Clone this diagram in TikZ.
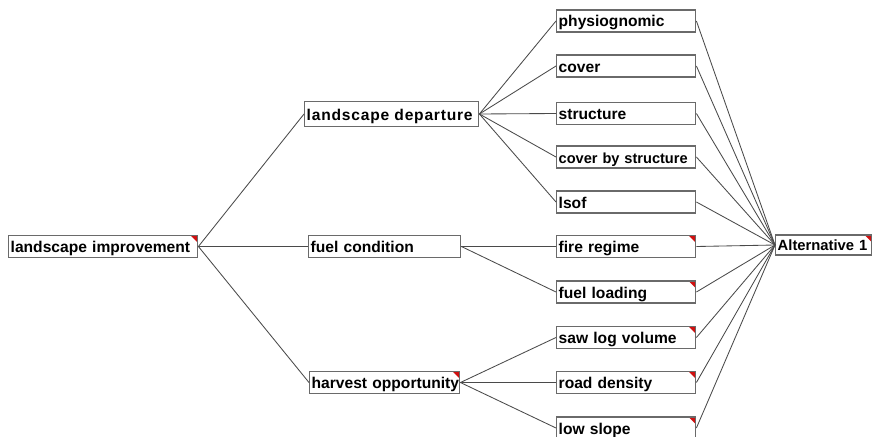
\documentclass[tikz,border=0pt]{standalone}
\usepackage{fontspec}
\setmainfont{Liberation Sans}
\definecolor{boxgray}{HTML}{6A6A6A}
\definecolor{linegray}{HTML}{4A4A4A}
\definecolor{flagred}{HTML}{D01010}
\begin{document}
\begin{tikzpicture}[x=1pt,y=-1pt,
  box/.style={draw=boxgray, line width=1.4pt, fill=white, minimum height=22pt,
    inner xsep=2pt, inner ysep=0pt, anchor=west, align=left,
    text height=12pt, text depth=0pt,
    font=\fontsize{15.6}{15.6}\selectfont\bfseries},
  redflag/.style={path picture={\fill[flagred]
    ([xshift=-7pt]path picture bounding box.north east) --
    (path picture bounding box.north east) --
    ([yshift=-7pt]path picture bounding box.north east) -- cycle;}},
  link/.style={draw=linegray, line width=0.85pt}]
\useasboundingbox (0,0) rectangle (872,436);
% level 0
\node[box, redflag, text width=185pt] (li) at (8,246.5) {\mbox{landscape improvement}};
% level 1
\node[box, text width=170pt, minimum height=25pt] (ld) at (304,114) {\mbox{\addfontfeature{LetterSpace=5}landscape departure}};
\node[box, text width=148pt] (fc) at (308,246.5) {\mbox{fuel condition}};
\node[box, redflag, text width=146pt] (ho) at (309,382.5) {\mbox{harvest opportunity}};
% leaves
\node[box, text width=135pt] (phy) at (556,21) {\mbox{physiognomic}};
\node[box, text width=135pt] (cov) at (556,66) {\mbox{cover}};
\node[box, text width=135pt] (str) at (556,113.5) {\mbox{structure}};
\node[box, text width=135pt, font=\fontsize{14.6}{14.6}\selectfont\bfseries] (cbs) at (556,157) {\mbox{cover by structure}};
\node[box, text width=135pt] (lsof) at (556,202) {\mbox{lsof}};
\node[box, redflag, text width=135pt] (fir) at (556,246.5) {\mbox{fire regime}};
\node[box, redflag, text width=135pt] (ful) at (556,292) {\mbox{fuel loading}};
\node[box, redflag, text width=135pt] (saw) at (556,337.5) {\mbox{saw log volume}};
\node[box, redflag, text width=135pt] (road) at (556,382.5) {\mbox{road density}};
\node[box, redflag, text width=135pt] (low) at (556,428) {\mbox{low slope}};
% goal
\node[box, redflag, text width=92pt, minimum height=20pt, text height=11pt,
  font=\fontsize{14.8}{14.8}\selectfont\bfseries] (alt) at (775,245) {\mbox{Alternative 1}};
% connectors
\foreach \c in {ld,fc,ho} \draw[link] (li.east) -- (\c.west);
\foreach \c in {phy,cov,str,cbs,lsof} \draw[link] (ld.east) -- (\c.west);
\foreach \c in {fir,ful} \draw[link] (fc.east) -- (\c.west);
\foreach \c in {saw,road,low} \draw[link] (ho.east) -- (\c.west);
\foreach \c in {phy,cov,str,cbs,lsof,fir,ful,saw,road,low} \draw[link] (\c.east) -- (alt.west);
\end{tikzpicture}
\end{document}
